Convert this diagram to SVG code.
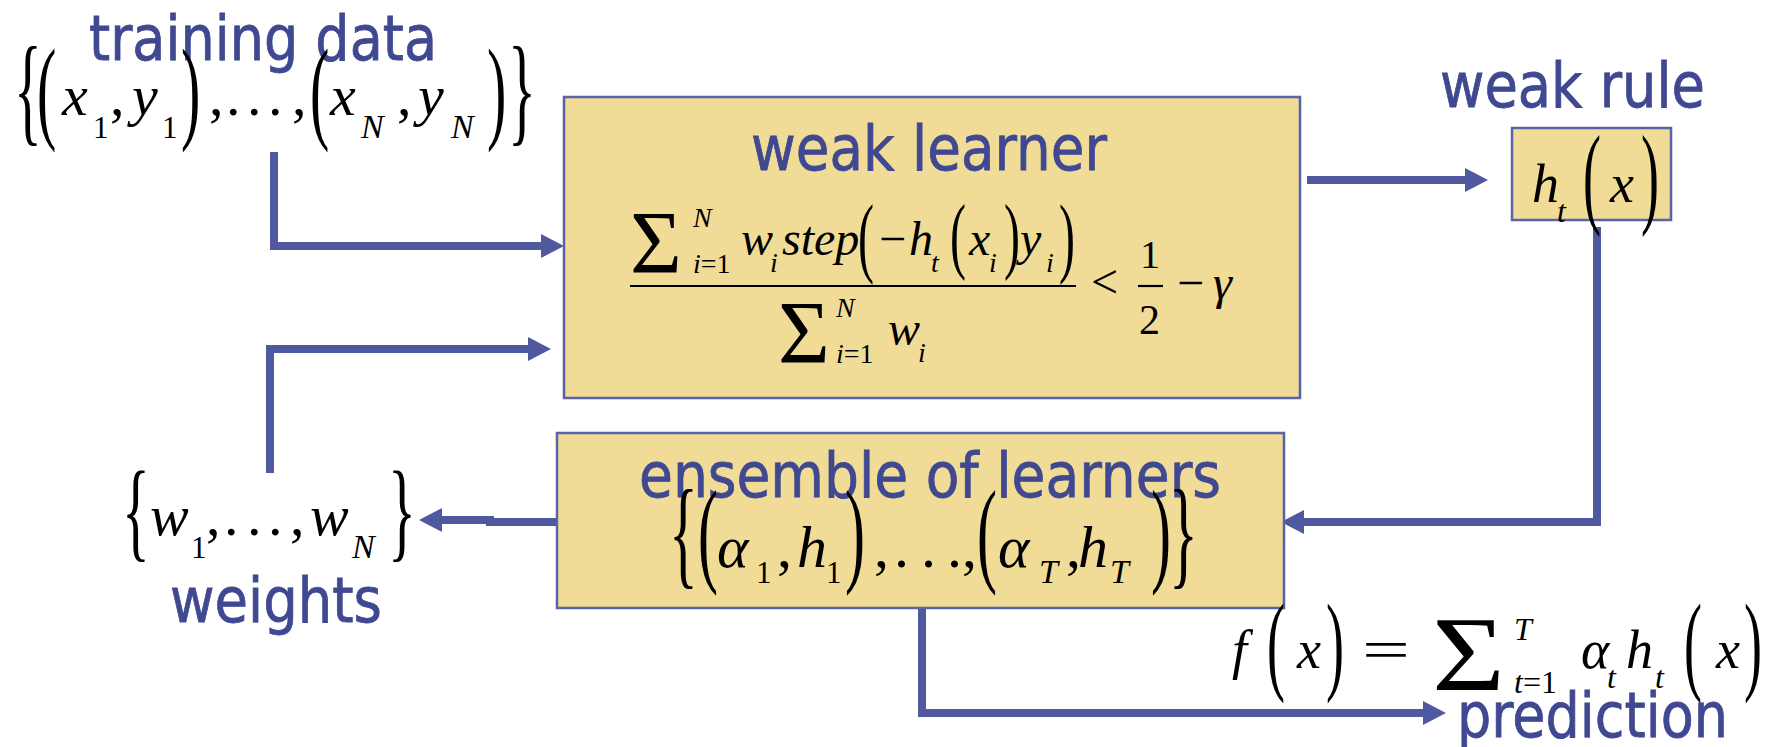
<svg xmlns="http://www.w3.org/2000/svg" width="1783" height="747" viewBox="0 0 1783 747">
<defs>
<style>
.lbl{font-family:"DejaVu Sans",sans-serif;font-size:62px;fill:#3F4891;stroke:#3F4891;stroke-width:0.8;}
.m{font-family:"Liberation Serif",serif;font-style:italic;fill:#000;}
.r{font-family:"Liberation Serif",serif;font-style:normal;fill:#000;}
.box{fill:#F0DC96;stroke:#5A62A8;stroke-width:2.5;}
.conn{fill:none;stroke:#5058A0;stroke-width:8;}
.bar{stroke:#000;stroke-width:2.2;}
</style>
<marker id="ah" markerUnits="userSpaceOnUse" markerWidth="24" markerHeight="24" viewBox="0 0 24 24" refX="3" refY="12" orient="auto">
<path d="M0,0 L23,12 L0,24 z" fill="#5058A0"/>
</marker>
</defs>
<rect width="1783" height="747" fill="#fff"/>

<g id="connectors">
<path class="conn" d="M274 152 V246 H544" marker-end="url(#ah)"/>
<path class="conn" d="M270 473 V349 H531" marker-end="url(#ah)"/>
<path class="conn" d="M1307 180 H1468" marker-end="url(#ah)"/>
<path class="conn" d="M1597 227 V522 H1301" marker-end="url(#ah)"/>
<path class="conn" d="M556 522 H490 V520 H439" marker-end="url(#ah)"/>
<path class="conn" d="M922 608 V713 H1426" marker-end="url(#ah)"/>
</g>

<g id="training-data">
<text class="lbl" x="89" y="60" textLength="348" lengthAdjust="spacingAndGlyphs">training data</text>
<text class="r" font-size="58" transform="translate(14,130.4) scale(1,2.065)">{</text>
<text class="r" font-size="58" transform="translate(37,127.5) scale(1,1.965)">(</text>
<text class="m" font-size="58" x="62" y="115">x</text>
<text class="r" font-size="31" x="93" y="138">1</text>
<text class="r" font-size="58" x="110" y="115">,</text>
<text class="m" font-size="58" x="132" y="115">y</text>
<text class="r" font-size="31" x="162" y="138">1</text>
<text class="r" font-size="58" transform="translate(181,127.5) scale(1,1.965)">)</text>
<text class="r" font-size="58" x="209" y="115">,</text>
<text class="r" font-size="58" x="226" y="115">.</text>
<text class="r" font-size="58" x="247" y="115">.</text>
<text class="r" font-size="58" x="268" y="115">.</text>
<text class="r" font-size="58" x="292" y="115">,</text>
<text class="r" font-size="58" transform="translate(310,127.5) scale(1,1.965)">(</text>
<text class="m" font-size="58" x="330" y="115">x</text>
<text class="m" font-size="34" x="361" y="138">N</text>
<text class="r" font-size="58" x="397" y="115">,</text>
<text class="m" font-size="58" x="418" y="115">y</text>
<text class="m" font-size="34" x="451" y="138">N</text>
<text class="r" font-size="58" transform="translate(487,127.5) scale(1,1.965)">)</text>
<text class="r" font-size="58" transform="translate(508,130.4) scale(1,2.065)">}</text>
</g>

<g id="weak-learner">
<rect class="box" x="564" y="97" width="736" height="301"/>
<text class="lbl" x="751" y="170" textLength="356" lengthAdjust="spacingAndGlyphs">weak learner</text>
<text class="r" font-size="89" x="630" y="272">Σ</text>
<text class="m" font-size="28" x="693" y="227">N</text>
<text class="m" font-size="28" x="693" y="273">i<tspan style="font-style:normal">=1</tspan></text>
<text class="m" font-size="48" x="741" y="255">w</text>
<text class="m" font-size="28" x="770" y="272">i</text>
<text class="m" font-size="48" x="782" y="255">step</text>
<text class="r" font-size="48" transform="translate(858,265.9) scale(1,1.865)">(</text>
<text class="r" font-size="48" x="879" y="255">−</text>
<text class="m" font-size="48" x="909" y="255">h</text>
<text class="m" font-size="28" x="931" y="272">t</text>
<text class="r" font-size="48" transform="translate(950,262.7) scale(1,1.768)">(</text>
<text class="m" font-size="48" x="969" y="255">x</text>
<text class="m" font-size="28" x="989" y="272">i</text>
<text class="r" font-size="48" transform="translate(1004,262.7) scale(1,1.768)">)</text>
<text class="m" font-size="48" x="1020" y="255">y</text>
<text class="m" font-size="28" x="1046" y="272">i</text>
<text class="r" font-size="48" transform="translate(1059,265.9) scale(1,1.865)">)</text>
<line class="bar" x1="630" y1="286" x2="1076" y2="286"/>
<text class="r" font-size="89" x="778" y="362">Σ</text>
<text class="m" font-size="28" x="836" y="317">N</text>
<text class="m" font-size="28" x="836" y="363">i<tspan style="font-style:normal">=1</tspan></text>
<text class="m" font-size="48" x="888" y="345">w</text>
<text class="m" font-size="28" x="918" y="362">i</text>
<text class="r" font-size="48" x="1091" y="298">&lt;</text>
<text class="r" font-size="40" x="1140" y="268">1</text>
<line class="bar" x1="1138" y1="286" x2="1163" y2="286"/>
<text class="r" font-size="42" x="1139" y="334">2</text>
<text class="r" font-size="48" x="1177" y="299">−</text>
<text class="m" font-size="48" x="1213" y="299">γ</text>
</g>

<g id="weak-rule">
<text class="lbl" x="1440" y="107" textLength="265" lengthAdjust="spacingAndGlyphs">weak rule</text>
<rect class="box" x="1512" y="128" width="159" height="92"/>
<text class="m" font-size="54" x="1532" y="202">h</text>
<text class="m" font-size="32" x="1557" y="222">t</text>
<text class="r" font-size="54" transform="translate(1583,212.9) scale(1,2.067)">(</text>
<text class="m" font-size="54" x="1610" y="202">x</text>
<text class="r" font-size="54" transform="translate(1641,212.9) scale(1,2.067)">)</text>
</g>

<g id="ensemble">
<rect class="box" x="557" y="433" width="727" height="175"/>
<text class="lbl" x="639" y="497" textLength="582" lengthAdjust="spacingAndGlyphs">ensemble of learners</text>
<text class="r" font-size="60" transform="translate(669,573.4) scale(1,1.996)">{</text>
<text class="r" font-size="60" transform="translate(698,571.1) scale(1,1.938)">(</text>
<text class="m" font-size="60" x="717" y="567">α</text>
<text class="r" font-size="31" x="756" y="583">1</text>
<text class="r" font-size="60" x="777" y="567">,</text>
<text class="m" font-size="60" x="797" y="567">h</text>
<text class="r" font-size="31" x="826" y="583">1</text>
<text class="r" font-size="60" transform="translate(845,571.1) scale(1,1.938)">)</text>
<text class="r" font-size="60" x="874" y="567">,</text>
<text class="r" font-size="60" x="894" y="567">.</text>
<text class="r" font-size="60" x="921" y="567">.</text>
<text class="r" font-size="60" x="947" y="567">.</text>
<text class="r" font-size="60" x="962" y="567">,</text>
<text class="r" font-size="60" transform="translate(977,571.1) scale(1,1.938)">(</text>
<text class="m" font-size="60" x="998" y="567">α</text>
<text class="m" font-size="34" x="1039" y="583">T</text>
<text class="r" font-size="60" x="1066" y="567">,</text>
<text class="m" font-size="60" x="1078" y="567">h</text>
<text class="m" font-size="34" x="1110" y="583">T</text>
<text class="r" font-size="60" transform="translate(1151,571.1) scale(1,1.938)">)</text>
<text class="r" font-size="60" transform="translate(1169,573.4) scale(1,1.996)">}</text>
</g>

<g id="weights">
<text class="r" font-size="58" transform="translate(122,547.1) scale(1,1.905)">{</text>
<text class="m" font-size="58" x="150" y="535">w</text>
<text class="r" font-size="31" x="191" y="558">1</text>
<text class="r" font-size="58" x="206" y="535">,</text>
<text class="r" font-size="58" x="224" y="535">.</text>
<text class="r" font-size="58" x="247" y="535">.</text>
<text class="r" font-size="58" x="268" y="535">.</text>
<text class="r" font-size="58" x="290" y="535">,</text>
<text class="m" font-size="58" x="310" y="535">w</text>
<text class="m" font-size="34" x="352" y="558">N</text>
<text class="r" font-size="58" transform="translate(388,547.1) scale(1,1.905)">}</text>
<text class="lbl" x="170" y="622" textLength="212" lengthAdjust="spacingAndGlyphs">weights</text>
</g>

<g id="prediction">
<text class="m" font-size="54" x="1232" y="668">f</text>
<text class="r" font-size="54" transform="translate(1267,680.1) scale(1,2.046)">(</text>
<text class="m" font-size="54" x="1297" y="668">x</text>
<text class="r" font-size="54" transform="translate(1326,680.1) scale(1,2.046)">)</text>
<text class="r" font-size="54" x="1362" y="668" textLength="48" lengthAdjust="spacingAndGlyphs">=</text>
<text class="r" font-size="106" x="1432" y="690" textLength="73" lengthAdjust="spacingAndGlyphs">Σ</text>
<text class="m" font-size="32" x="1514" y="640">T</text>
<text class="m" font-size="32" x="1514" y="693">t<tspan style="font-style:normal">=1</tspan></text>
<text class="m" font-size="54" x="1581" y="668">α</text>
<text class="m" font-size="32" x="1607" y="688">t</text>
<text class="m" font-size="54" x="1626" y="668">h</text>
<text class="m" font-size="32" x="1655" y="688">t</text>
<text class="r" font-size="54" transform="translate(1684,680.1) scale(1,2.046)">(</text>
<text class="m" font-size="54" x="1716" y="668">x</text>
<text class="r" font-size="54" transform="translate(1744,680.1) scale(1,2.046)">)</text>
<text class="lbl" x="1457" y="737" textLength="271" lengthAdjust="spacingAndGlyphs">prediction</text>
</g>
</svg>
